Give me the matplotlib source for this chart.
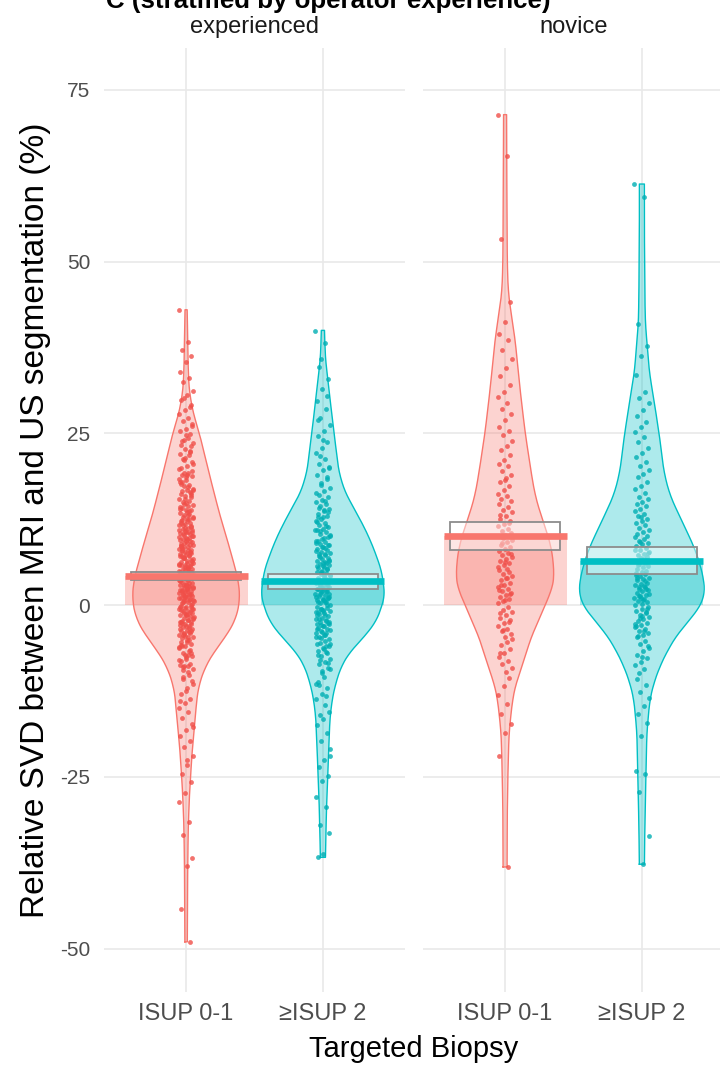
import numpy as np
import matplotlib
matplotlib.use('Agg')
import matplotlib.pyplot as plt
from matplotlib.patches import Rectangle
from matplotlib.transforms import blended_transform_factory

plt.rcParams['font.family'] = ['Liberation Sans', 'DejaVu Sans']
plt.rcParams['axes.unicode_minus'] = False

# ---------------- data ----------------
panels = ['experienced', 'novice']
categories = ['ISUP 0-1', '\u2265ISUP 2']
colors = ['#F8766D', '#00BFC4']
point_colors = ['#F04F49', '#00AEB3']

# displayed means and inference bands (per panel, per category)
means = [[4.2, 3.5], [10.0, 6.4]]
ci_low = [[3.6, 2.3], [8.0, 4.5]]
ci_high = [[4.8, 4.5], [12.1, 8.4]]

exp_isup01 = [43.0, 38.3, 37.1, 36.2, 35.4, 34.0, 33.1, 32.5, 31.2, 30.6, 29.8, 29.1, 28.4, 27.9, 27.2,
              26.8, 26.1, 25.7, 25.3, 24.9, 24.1, 23.6, 24.4, 23.9, 23.1, 22.7, 22.0, 21.8, 21.3, 20.9,
              20.3, 20.0, 22.5, 21.4, 19.8, 19.3, 19.0, 18.8, 18.2, 18.0, 17.5, 17.4, 16.9, 16.8, 16.2,
              16.0, 15.9, 15.5, 15.2, 15.0, 19.6, 18.6, 17.7, 16.5, 14.8, 14.6, 14.5, 14.1, 13.9, 13.8,
              13.4, 13.3, 12.9, 12.7, 12.6, 12.2, 12.0, 11.8, 11.7, 11.3, 11.1, 11.0, 10.7, 10.5, 10.3,
              10.2, 10.0, 13.6, 12.4, 11.5, 10.8, 9.9, 9.8, 9.6, 9.2, 9.0, 8.9, 8.8, 8.4, 8.2, 8.1, 7.9,
              7.6, 7.5, 7.2, 7.1, 6.8, 6.7, 6.4, 6.3, 6.0, 5.9, 5.8, 5.6, 5.3, 5.2, 9.4, 8.6, 7.8, 7.0,
              6.1, 5.4, 8.0, 6.6, 5.1, 4.9, 4.8, 4.6, 4.5, 4.3, 4.2, 4.0, 3.9, 3.7, 3.6, 3.4, 3.3, 3.1,
              3.0, 2.8, 2.7, 2.5, 2.4, 2.2, 2.1, 1.9, 1.8, 1.6, 1.5, 1.3, 1.2, 1.0, 0.9, 0.7, 0.6, 0.4,
              0.3, 0.1, 4.4, 3.5, 2.6, 1.7, 0.8, 2.0, -0.1, -0.3, -0.4, -0.6, -0.8, -0.9, -1.1, -1.3,
              -1.5, -1.6, -1.8, -2.0, -2.2, -2.3, -2.5, -2.7, -2.9, -3.1, -3.2, -3.4, -3.6, -3.8, -4.0,
              -4.2, -4.4, -4.6, -4.8, -0.5, -1.4, -2.4, -3.3, -4.1, -1.9, -5.1, -5.4, -5.7, -6.0, -6.3,
              -6.7, -7.0, -7.4, -7.8, -8.1, -8.5, -8.9, -9.3, -9.7, -5.9, -6.9, -7.6, -8.7, -10.2,
              -10.8, -11.5, -12.1, -12.9, -13.6, -14.3, -14.9, -15.6, -16.4, -17.3, -18.1, -19.0,
              -19.8, -20.7, -21.9, -23.2, -24.5, -25.8, -27.3, -28.6, -31.5, -33.4, -36.8, -37.9,
              -44.2, -49.0,
              19.2, 18.4, 17.2, 16.6, 15.7, 14.9, 14.3, 13.7, 13.1, 12.8, 12.3, 11.9, 11.4, 11.2, 10.9,
              10.6, 10.4, 10.1, 9.8, 9.5, 9.3, 9.1, 8.7, 8.5, 8.3, 8.0, 7.7, 7.4, 7.3, 6.9, 6.5, 6.2,
              5.9, 5.7, 5.5, 5.0, 4.7, 4.4, 4.1, 3.8, 3.6, 3.2, 2.9, 2.6, 2.3, 2.0, 1.7, 1.4, 1.1, 0.8,
              0.5, 0.2, -0.2, -0.7, -1.0, -1.2, -1.7, -2.1, -2.6, -2.8, -3.0, -3.5, -3.9, -4.3, -4.7,
              -5.3, -5.8, -6.5, -7.2, -8.0, -8.8, -9.5, -11.0, -12.5, -13.9, 22.3, 21.1, 20.5, 18.9,
              17.9, 16.3, 15.4, 14.0, 12.5, 11.6, 10.7, 9.7, 8.6, 7.8, 6.8, 6.0, 5.2, 4.6, 3.9, 3.0,
              2.2, 1.5, 0.6, -0.6, -1.5, -2.4, -3.7, -4.5, -6.1, -7.3, -9.0, 26.4, 24.7, 23.3, 28.8,
              30.1, 16.7, 13.2, 7.1, 4.9, 1.2, -0.3, -5.0, -10.5, -17.8, -22.6]
exp_isup2 = [39.9, 38.2, 34.6, 32.9, 31.4, 29.7, 28.5, 27.3, 26.2, 25.4, 24.6, 23.8, 22.9, 22.1, 21.3,
             20.6, 20.1, 19.7, 19.0, 18.4, 17.8, 17.1, 16.6, 16.0, 15.7, 15.3, 15.0, 14.8, 14.5, 14.0,
             13.7, 13.3, 13.0, 12.6, 12.3, 12.0, 11.7, 11.4, 11.1, 10.9, 10.6, 10.4, 10.1, 13.9, 12.8,
             9.9, 9.7, 9.4, 9.2, 8.9, 8.7, 8.5, 8.2, 8.0, 7.8, 7.6, 7.3, 7.1, 6.9, 6.7, 6.4, 6.2, 6.0,
             5.8, 5.6, 5.4, 5.2, 5.0, 9.0, 8.3, 7.4, 6.5, 5.7, 4.9, 4.7, 4.5, 4.3, 4.1, 3.9, 3.7, 3.5,
             3.3, 3.1, 2.9, 2.7, 2.5, 2.3, 2.1, 1.9, 1.7, 1.5, 1.3, 1.1, 0.9, 0.7, 0.5, 0.3, 0.1, 4.4,
             3.6, 2.8, 2.0, 1.2, 0.4, 3.0, 1.6, 0.8, -0.2, -0.4, -0.6, -0.9, -1.1, -1.3, -1.6, -1.8,
             -2.0, -2.3, -2.5, -2.8, -3.0, -3.3, -3.5, -3.8, -4.0, -4.3, -4.6, -4.9, -0.7, -1.5, -2.2,
             -2.9, -3.6, -4.4, -1.0, -2.6, -3.9, -4.7, -5.2, -5.5, -5.9, -6.2, -6.6, -7.0, -7.4, -7.8,
             -8.2, -8.6, -9.1, -9.6, -5.7, -6.8, -8.0, -9.3, -10.4, -11.2, -12.0, -12.9, -13.7, -14.5,
             -11.6, -15.6, -16.5, -17.4, -18.6, -19.7, -21.0, -22.5, -23.6, -24.8, -25.6, -27.9,
             -29.4, -32.0, -33.1, -36.2, -36.7,
             18.7, 17.5, 16.3, 15.1, 14.2, 13.5, 12.9, 12.1, 11.5, 10.8, 10.2, 9.8, 9.3, 8.8, 8.4, 7.9,
             7.5, 7.0, 6.6, 6.1, 5.7, 5.3, 4.8, 4.4, 4.0, 3.6, 3.2, 2.8, 2.4, 2.0, 1.6, 1.2, 0.8, 0.4,
             0.0, -0.5, -1.0, -1.5, -2.0, -2.5, -3.0, -3.5, -4.1, -4.8, -5.6, -6.4, -7.3, -8.4, -9.8,
             -11.5, -13.2, 21.7, 20.0, 24.0, 26.9, 30.5, 35.8, 11.0, 6.3, 3.4, 1.0, -0.9, -2.7, -6.0,
             -16.0, -22.0]
nov_isup01 = [71.4, 65.4, 53.3, 44.1, 41.2, 39.4, 38.6, 37.2, 35.9, 34.5, 33.3, 32.1, 31.0, 30.3, 29.4,
              28.6, 27.8, 26.9, 26.0, 25.3, 24.7, 23.9, 23.2, 22.6, 21.8, 21.1, 20.5, 20.2, 19.6, 19.0,
              18.5, 17.9, 17.3, 16.8, 16.2, 15.9, 15.5, 15.1, 18.2, 14.7, 14.3, 13.9, 13.5, 13.0, 12.6,
              12.2, 11.8, 11.5, 11.1, 10.8, 10.5, 10.2, 13.2, 11.9, 9.8, 9.5, 9.2, 8.8, 8.5, 8.2, 7.9,
              7.6, 7.3, 7.0, 6.7, 6.4, 6.1, 5.8, 5.5, 5.2, 9.0, 7.4, 6.3, 5.1, 4.8, 4.5, 4.2, 3.9, 3.6,
              3.3, 3.0, 2.7, 2.4, 2.1, 1.8, 1.5, 1.2, 0.9, 0.6, 0.3, 4.0, 2.9, 1.6, 0.8, 2.2, -0.3,
              -0.7, -1.0, -1.4, -1.8, -2.2, -2.6, -3.0, -3.4, -3.8, -4.2, -4.6, -1.2, -2.4, -3.6, -4.9,
              -5.3, -5.8, -6.4, -6.9, -7.5, -8.1, -8.6, -9.2, -9.7, -7.0, -10.6, -11.8, -13.0, -14.4,
              -15.8, -17.3, -18.6, -22.0, -38.1]
nov_isup2 = [61.3, 59.4, 40.9, 37.7, 36.2, 33.5, 31.0, 30.2, 29.5, 28.4, 27.6, 26.7, 25.9, 25.2, 24.5,
             23.7, 22.9, 22.2, 21.5, 20.9, 20.3, 19.7, 19.1, 18.6, 18.0, 17.4, 16.9, 16.3, 15.8, 15.4,
             15.0, 14.7, 14.4, 14.0, 13.7, 13.3, 13.0, 12.6, 12.3, 12.0, 11.6, 11.3, 11.0, 10.7, 10.4,
             10.1, 12.8, 9.9, 9.7, 9.4, 9.1, 8.9, 8.6, 8.3, 8.1, 7.8, 7.5, 7.3, 7.0, 6.8, 6.5, 6.2,
             6.0, 5.7, 5.5, 5.2, 5.0, 9.2, 8.0, 6.7, 5.9, 7.6, 4.9, 4.7, 4.5, 4.2, 4.0, 3.8, 3.6, 3.3,
             3.1, 2.9, 2.7, 2.4, 2.2, 2.0, 1.8, 1.5, 1.3, 1.1, 0.9, 0.6, 0.4, 0.2, 4.4, 3.5, 2.6, 1.7,
             0.8, 3.9, 2.3, 1.0, 0.1, 2.8, 1.4, -0.2, -0.5, -0.8, -1.1, -1.4, -1.7, -2.0, -2.3, -2.6,
             -2.9, -3.2, -3.5, -3.8, -4.1, -4.4, -4.7, -1.0, -1.9, -2.8, -3.7, -4.5, -0.6, -1.6, -3.0,
             -5.2, -5.7, -6.2, -6.7, -7.2, -7.7, -8.2, -8.7, -9.3, -9.8, -6.0, -7.5, -10.7, -11.6,
             -12.6, -13.5, -14.6, -15.9, -17.2, -19.0, -24.1, -24.6, -27.2, -33.6, -37.7]
observations = [[exp_isup01, exp_isup2], [nov_isup01, nov_isup2]]

# violin (bean) outlines: y level and relative density
exp_isup01_bean_y = [43, 40, 35, 31.4, 28, 25.2, 21, 16.9, 13, 9.6, 6.5, 3.8, 1, -2, -4.5, -6.8, -9,
                     -11.8, -14, -16.6, -21.4, -27.2, -32, -38, -45, -49]
exp_isup01_bean_d = [1, 1.5, 2, 3, 7, 13, 20, 27, 34, 41, 47, 52, 54, 50, 40, 28, 19, 12.5, 10.5, 9,
                     6, 3.5, 2.2, 1.6, 1.4, 1.2]
exp_isup2_bean_y = [40, 36, 31.4, 25.2, 19.4, 16.5, 14.4, 12, 9.6, 7, 4.8, 1.3, -2.2, -4.5, -6.8, -9,
                    -11.8, -14, -16.6, -24, -30, -36.7]
exp_isup2_bean_d = [1.5, 2.5, 6, 11, 16, 22, 30, 39, 47, 54, 59, 62, 54, 42, 27, 18, 12, 9, 7, 5, 3.5,
                    2.5]
nov_isup01_bean_y = [71.4, 60, 50, 46, 43.5, 38.7, 31.4, 25.2, 19.4, 16, 13.5, 11, 8.6, 6, 3.8, 2, 0.9,
                     -1.5, -3.9, -6.5, -8.9, -11.3, -13.7, -18.5, -23.4, -30, -38.1]
nov_isup01_bean_d = [1.5, 1.8, 2.2, 3, 5, 10, 15, 20, 26, 30, 35, 41, 46, 48.5, 49, 47, 42, 36, 28, 22,
                     17, 11, 7.5, 4, 3, 2.2, 2]
nov_isup2_bean_y = [61.3, 55, 45, 41, 33.9, 29, 24.2, 19.4, 16, 13.5, 11, 8.6, 6, 3.8, 1.5, 0.2, -1.8,
                    -3.9, -6.5, -8.9, -11.3, -13.7, -18.5, -25, -32, -37.7]
nov_isup2_bean_d = [2.5, 2.5, 3, 3.5, 7.5, 13, 18, 22, 28, 36, 44, 52, 58, 62, 63, 60, 50, 37, 26, 18,
                    12, 8, 5, 4, 3, 2.5]
bean_y = [[exp_isup01_bean_y, exp_isup2_bean_y], [nov_isup01_bean_y, nov_isup2_bean_y]]
bean_d = [[exp_isup01_bean_d, exp_isup2_bean_d], [nov_isup01_bean_d, nov_isup2_bean_d]]

y_ticks = [-50, -25, 0, 25, 50, 75]

# ---------------- figure ----------------
W, H = 720, 1066
fig = plt.figure(figsize=(W / 100, H / 100), dpi=100)

px_unit = 136.8
ax_bottom = 1 - 992 / H
ax_height = (992 - 48) / H
axes = [fig.add_axes([104 / W, ax_bottom, 301 / W, ax_height]),
        fig.add_axes([423 / W, ax_bottom, 297 / W, ax_height])]
xlims = [(0.4, 2.6), (0.4, 0.4 + 297 / px_unit)]

grid_c = '#E9E9E9'
for p, ax in enumerate(axes):
    ax.set_xlim(*xlims[p])
    ax.set_ylim(-56.3, 81.1)
    for s in ax.spines.values():
        s.set_visible(False)
    ax.set_yticks(y_ticks)
    ax.set_xticks([1, 2])
    ax.set_xticklabels(categories)
    ax.tick_params(axis='both', length=0, colors='#4D4D4D')
    ax.tick_params(axis='x', labelsize=17, pad=8)
    ax.tick_params(axis='y', labelsize=15, pad=10)
    if p == 1:
        ax.set_yticklabels([])
    ax.grid(True, color=grid_c, linewidth=1.2)
    ax.set_axisbelow(True)

    for c in range(2):
        x0 = c + 1
        col = colors[c]
        # bar from 0 to mean
        ax.add_patch(Rectangle((x0 - 0.45, 0), 0.9, means[p][c], facecolor=col, alpha=0.32,
                               edgecolor='none', zorder=1))
        # bean
        yb = np.array(bean_y[p][c][::-1], dtype=float)
        db = np.array(bean_d[p][c][::-1], dtype=float) / px_unit
        yy = np.linspace(yb.min(), yb.max(), 600)
        dd = np.interp(yy, yb, db)
        k = 21
        pad = np.concatenate([np.full(k, dd[0]), dd, np.full(k, dd[-1])])
        dd = np.convolve(pad, np.ones(k) / k, mode='same')[k:-k]
        ax.fill_betweenx(yy, x0 - dd, x0 + dd, facecolor=col, alpha=0.32, edgecolor='none', zorder=2)
        ox = np.concatenate([x0 - dd, (x0 + dd)[::-1], [x0 - dd[0]]])
        oy = np.concatenate([yy, yy[::-1], [yy[0]]])
        ax.plot(ox, oy, color=col, lw=1.0, zorder=2.5)
        # points
        obs = np.array(observations[p][c], dtype=float)
        idx = np.arange(len(obs))
        jit = ((idx * 0.618034) % 1.0 - 0.5) * 2 * 0.055
        ax.scatter(x0 + jit, obs, s=12, color=point_colors[c], alpha=0.8, linewidths=0, zorder=3)
        # inference box
        ax.add_patch(Rectangle((x0 - 0.4, ci_low[p][c]), 0.8, ci_high[p][c] - ci_low[p][c],
                               facecolor='white', alpha=0.45, edgecolor='none', zorder=4))
        ax.add_patch(Rectangle((x0 - 0.4, ci_low[p][c]), 0.8, ci_high[p][c] - ci_low[p][c],
                               facecolor='none', edgecolor='#8C8C8C', lw=1.3, zorder=4.2))
        # mean line
        ax.plot([x0 - 0.45, x0 + 0.45], [means[p][c], means[p][c]], color=col, lw=4.8,
                solid_capstyle='butt', zorder=5)

    tr = blended_transform_factory(ax.transData, fig.transFigure)
    ax.text(1.5, 1 - 27 / H, panels[p], transform=tr, ha='center', va='center', fontsize=17,
            color='#1A1A1A')

fig.text(106 / W, 1 - 8 / H, 'C (stratified by operator experience)', fontsize=18.6, fontweight='bold',
         ha='left', va='baseline')
fig.text(414 / W, 1 - 1057 / H, 'Targeted Biopsy', fontsize=21, ha='center', va='baseline')
fig.text(36 / W, 1 - 520 / H, 'Relative SVD between MRI and US segmentation (%)', fontsize=24,
         rotation=90, ha='center', va='center')

fig.savefig('out.png', dpi=100)
